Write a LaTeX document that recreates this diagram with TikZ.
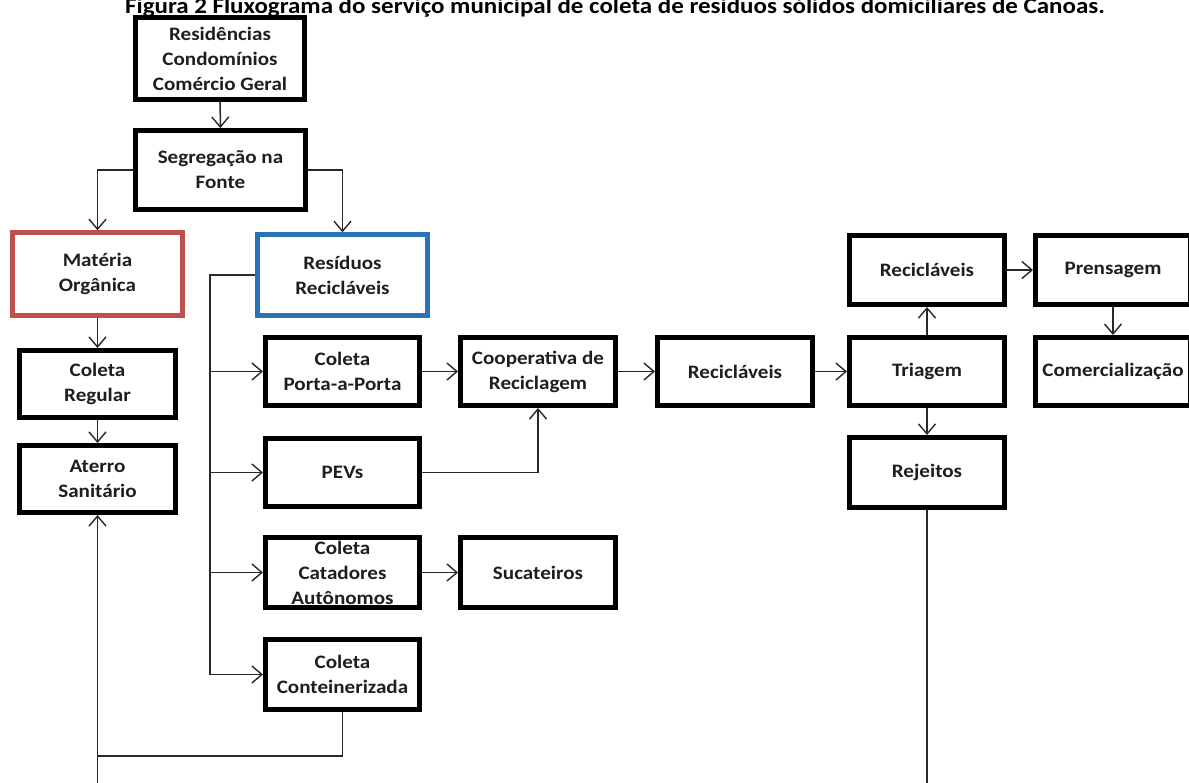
\documentclass[tikz,border=0pt]{standalone}
\usepackage{fontspec}
\setmainfont{Carlito}[FakeStretch=1.11]
\usetikzlibrary{arrows.meta}
\definecolor{redb}{RGB}{192,80,77}
\definecolor{blueb}{RGB}{40,115,182}
\definecolor{txt}{RGB}{30,30,30}
\definecolor{ln}{RGB}{40,40,40}
\begin{document}
\begin{tikzpicture}[x=1pt,y=-1pt,
  box/.style={draw=black,line width=5pt,fill=white,align=center,
    font=\bfseries\fontsize{19}{25}\selectfont,text=txt,inner sep=0pt},
  conn/.style={draw=ln,line width=1.5pt},
  arr/.style={conn,-{Straight Barb[length=10pt,width=17pt,line width=1.4pt]}}]
\useasboundingbox (0,0) rectangle (1189,782);
\fill[white] (0,0) rectangle (1189,782);
\clip (0,0) rectangle (1189,782);

\node[anchor=base,font=\bfseries\fontsize{22.5}{26}\selectfont,text=black] (title) at (615,13)
  {Figura 2 Fluxograma do serviço municipal de coleta de resíduos sólidos domiciliares de Canoas.};

\node[box,minimum width=169pt,minimum height=82pt] (res) at (220,58.5) {Residências\\Condomínios\\Comércio Geral};
\node[box,minimum width=170pt,minimum height=79pt] (seg) at (220.5,170) {Segregação na\\Fonte};
\node[box,draw=redb,line width=4.5pt,minimum width=170pt,minimum height=83pt] (mat) at (97.5,274) {Matéria\\Orgânica};
\node[box,draw=blueb,line width=4.5pt,minimum width=170pt,minimum height=81pt] (rr) at (342.5,275) {Resíduos\\Recicláveis};
\node[box,minimum width=156pt,minimum height=67pt] (creg) at (97.5,384) {Coleta\\Regular};
\node[box,minimum width=156pt,minimum height=67pt] (ater) at (97.5,479) {Aterro\\Sanitário};
\node[box,minimum width=154pt,minimum height=68pt] (cpp) at (342.5,371.5) {Coleta\\Porta-a-Porta};
\node[box,minimum width=154pt,minimum height=68pt] (pevs) at (342.5,472.5) {PEVs};
\node[box,minimum width=154pt,minimum height=70pt] (cat) at (342.5,572.5) {Coleta\\Catadores\\Autônomos};
\node[box,minimum width=154pt,minimum height=70pt] (cont) at (342.5,674.5) {Coleta\\Conteinerizada};
\node[box,minimum width=155pt,minimum height=68pt] (coop) at (538,371.5) {Cooperativa de\\Reciclagem};
\node[box,minimum width=155pt,minimum height=70pt] (suc) at (538,572.5) {Sucateiros};
\node[box,minimum width=155pt,minimum height=68pt] (rec1) at (735,371.5) {Recicláveis};
\node[box,minimum width=155pt,minimum height=68pt] (tri) at (927,371.5) {Triagem};
\node[box,minimum width=155pt,minimum height=69pt] (rec2) at (927,270) {Recicláveis};
\node[box,minimum width=155pt,minimum height=69pt] (pren) at (1113,270) {Prensagem};
\node[box,minimum width=155pt,minimum height=68pt] (com) at (1113,371.5) {Comercialização};
\node[box,minimum width=155pt,minimum height=70pt] (rej) at (927,472.5) {Rejeitos};

\coordinate (brT) at (210,275);
\coordinate (brB) at (210,674.5);
\coordinate (b1) at (97.5,795);
\coordinate (j) at (97.5,756);

\draw[arr] (res) -- (seg);
\draw[arr] (seg.west) -| (mat.north);
\draw[arr] (seg.east) -| (rr.north);
\draw[arr] (mat) -- (creg);
\draw[arr] (creg) -- (ater);
\draw[conn] (rr.west) -- (brT) -- (brB);
\draw[arr] (brT |- cpp) -- (cpp);
\draw[arr] (brT |- pevs) -- (pevs);
\draw[arr] (brT |- cat) -- (cat);
\draw[arr] (brB) -- (cont);
\draw[arr] (cpp) -- (coop);
\draw[arr] (pevs.east) -| (coop.south);
\draw[arr] (coop) -- (rec1);
\draw[arr] (rec1) -- (tri);
\draw[arr] (tri) -- (rec2);
\draw[arr] (rec2) -- (pren);
\draw[arr] (pren) -- (com);
\draw[arr] (tri) -- (rej);
\draw[arr] (cat) -- (suc);
\draw[arr] (b1) -- (ater.south);
\draw[conn] (cont.south) |- (j);
\draw[conn] (rej.south) -- (rej.south |- b1);
\end{tikzpicture}
\end{document}
